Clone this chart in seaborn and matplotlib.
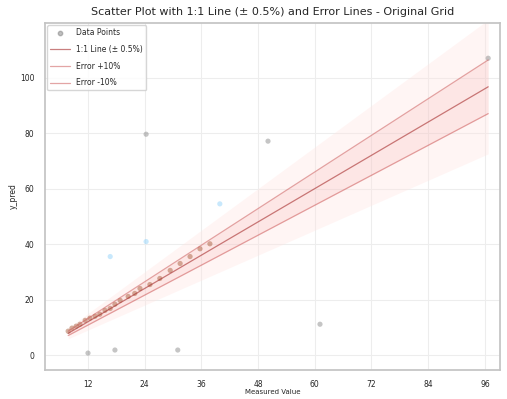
import numpy as np
import pandas as pd
import matplotlib
matplotlib.use("Agg")
import matplotlib.pyplot as plt
import seaborn as sns

# measured vs predicted values
measured = [7.8, 8.6, 9.5, 10.3, 11.4, 12.4, 13.5, 14.5, 15.6, 16.7, 17.7, 18.8,
            20.5, 21.9, 23.0, 25.1, 27.2, 29.4, 31.5, 33.6, 35.7, 37.8,
            12.0, 17.7, 16.7, 24.3, 24.3, 31.0, 39.9, 50.1, 61.1, 96.7]
predicted = [8.6, 9.7, 10.4, 11.1, 12.5, 13.3, 14.0, 14.7, 16.1, 16.8, 18.3, 19.7,
             21.1, 22.2, 24.0, 25.4, 27.6, 30.5, 33.0, 35.5, 38.3, 40.1,
             0.7, 1.8, 35.5, 40.9, 79.6, 1.8, 54.5, 77.1, 11.1, 107.0]
group = ['a'] * 22 + ['b', 'b', 'c', 'c', 'b', 'b', 'c', 'b', 'b', 'b']
err = 0.10
x_ticks = [12, 24, 36, 48, 60, 72, 84, 96]
y_ticks = [0, 20, 40, 60, 80, 100]

df = pd.DataFrame({"Measured": measured, "Predicted": predicted, "group": group})

sns.set_theme(style="whitegrid")
plt.rcParams['font.family'] = ['DejaVu Sans']

fig = plt.figure(figsize=(5.07, 3.99), dpi=100)
ax = fig.add_axes([45 / 507, 1 - 370 / 399, 455 / 507, 347 / 399])

xs = np.linspace(min(measured), max(measured), 50)
# soft bands around the reference lines
ax.fill_between(xs, xs * (1 - 2.5 * err), xs * (1 + 2.5 * err), color='mistyrose', alpha=0.35, lw=0)
ax.fill_between(xs, xs * (1 - err), xs * (1 + err), color='lightcoral', alpha=0.12, lw=0)

sns.scatterplot(data=df, x="Measured", y="Predicted", hue="group", ax=ax, s=14, alpha=0.45,
                palette={'a': 'sienna', 'b': 'gray', 'c': 'lightskyblue'}, edgecolor='none',
                legend=False)
ax.scatter([], [], s=10, color='gray', alpha=0.5, label='Data Points')
ax.plot(xs, xs, color='brown', lw=0.9, alpha=0.6, label='1:1 Line (± 0.5%)')
ax.plot(xs, xs * (1 + err), color='indianred', lw=0.9, alpha=0.55, label='Error +10%')
ax.plot(xs, xs * (1 - err), color='indianred', lw=0.9, alpha=0.55, label='Error -10%')

ax.set_xlim(2.9, 99.2)
ax.set_ylim(-5.4, 119.7)
ax.set_xticks(x_ticks)
ax.set_yticks(y_ticks)
ax.grid(color='#ededed', lw=0.8)
for s in ax.spines.values():
    s.set_color('#c4c4c4')

ax.set_title('Scatter Plot with 1:1 Line (± 0.5%) and Error Lines - Original Grid', fontsize=8, pad=6)
ax.set_xlabel('Measured Value', fontsize=5, labelpad=0)
ax.set_ylabel('y_pred', fontsize=5.5, labelpad=2)
ax.tick_params(labelsize=5.5, pad=1.5)
ax.legend(loc='upper left', fontsize=5.5, frameon=True, borderaxespad=0.3,
          labelspacing=1.0, handlelength=2.6)

fig.savefig('out.png', dpi=100)
